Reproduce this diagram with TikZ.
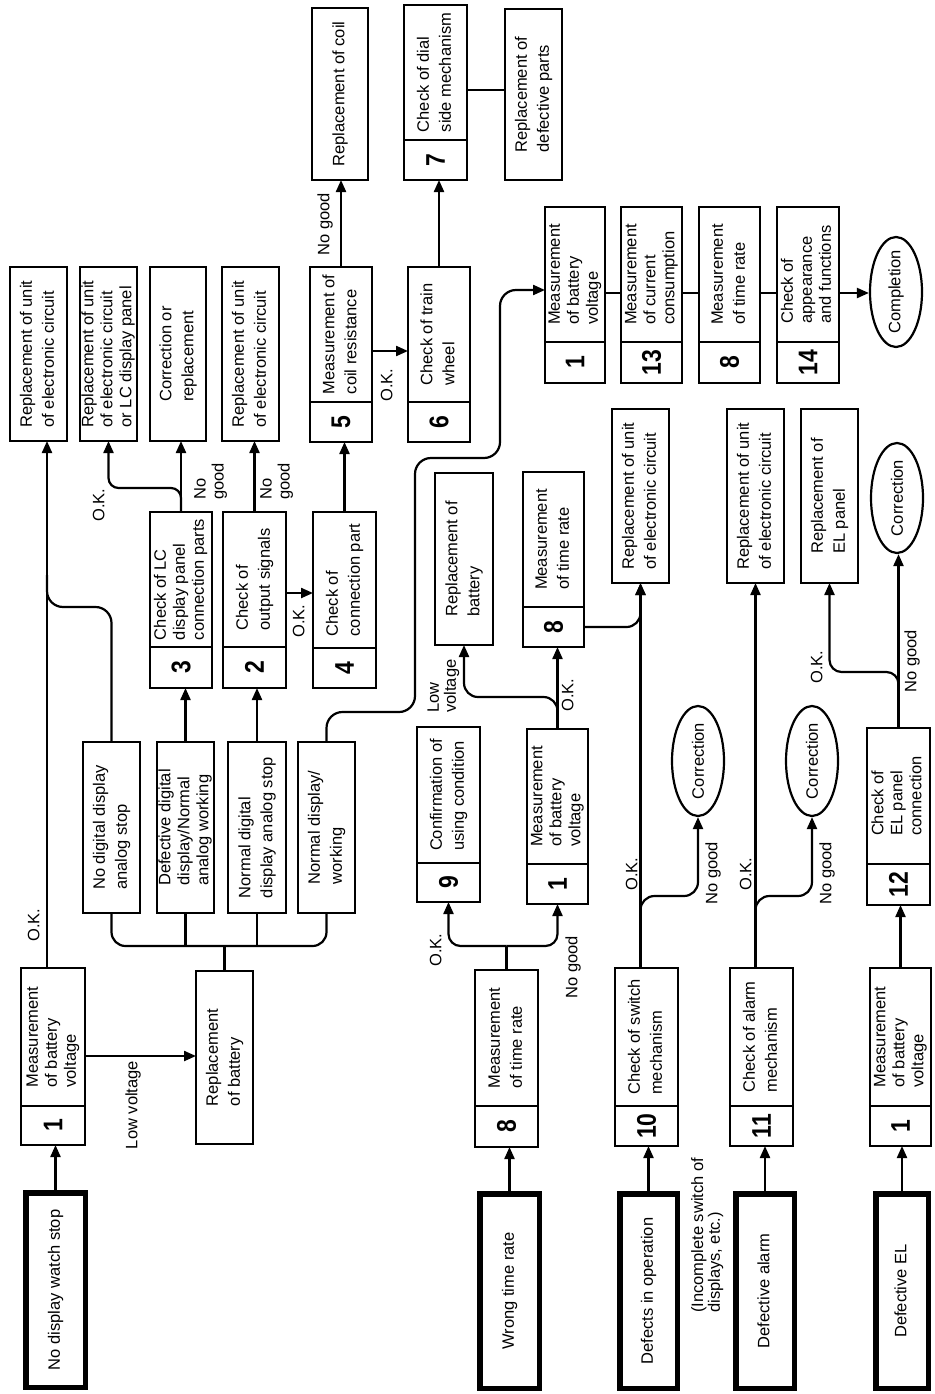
\documentclass[tikz,border=0pt]{standalone}
\usepackage{fontspec}
\setmainfont{Liberation Sans}
\newfontfamily\numf{Liberation Sans}[FakeStretch=0.85]
\usetikzlibrary{arrows.meta,shapes.geometric}
\newcommand\vt[2][22]{\rotatebox{90}{\fontsize{16.5}{#1}\selectfont\begin{tabular}{@{}l@{}}#2\end{tabular}}}
\newcommand\vn[1]{\rotatebox{90}{\numf\bfseries\fontsize{27}{27}\selectfont #1}}
\newcommand\vz[1]{\rotatebox{90}{\makebox[0pt]{\fontsize{16.5}{20}\selectfont #1}}}
\tikzset{
 bx/.style={draw, line width=2.2pt, inner sep=0pt, outer sep=0pt, anchor=north west},
 tb/.style={bx, line width=5.5pt},
 sz/.style 2 args={minimum width=#1pt, minimum height=#2pt},
 ln/.style={line width=2.2pt},
 arr/.style={ln, -{Triangle[length=12pt,width=10pt]}},
 ell/.style={draw, ellipse, line width=2.2pt, inner sep=0pt, minimum width=52pt, minimum height=110pt},
 lab/.style={inner sep=0pt},
}
\begin{document}
\begin{tikzpicture}[x=1pt,y=-1pt]
\fill[white] (0,0) rectangle (934,1394);
\useasboundingbox (0,0) rectangle (934,1394);
% top-left column
\node[bx,sz={57}{174}] (rA) at (10,267) {\vt{Replacement of unit\\of electronic circuit}};
\node[bx,sz={57}{174}] (rB) at (80,267) {\vt[19]{Replacement of unit\\of electronic circuit\\or LC display panel}};
\node[bx,sz={56}{174}] (rC) at (150,267) {\vt{Correction or\\replacement}};
\node[bx,sz={57}{174}] (rD) at (222,267) {\vt{Replacement of unit\\of electronic circuit}};
% 5,6,7
\node[bx,sz={62}{135}] (b5) at (310,267) {\vt{Measurement of\\coil resistance}};
\node[bx,sz={62}{40}] (b5n) at (310,402) {\vn{5}};
\node[bx,sz={62}{135}] (b6) at (408,267) {\vt{Check of train\\wheel}};
\node[bx,sz={62}{40}] (b6n) at (408,402) {\vn{6}};
\node[bx,sz={56}{172}] (rCoil) at (312,8) {\vt{Replacement of coil}};
\node[bx,sz={63}{135}] (b7) at (404,5) {\vt{Check of dial\\side mechanism}};
\node[bx,sz={63}{40}] (b7n) at (404,140) {\vn{7}};
\node[bx,sz={57}{171}] (rDef) at (505,9) {\vt{Replacement of\\defective parts}};
% final sequence
\node[bx,sz={60}{135}] (c1) at (545,207) {\vt[19]{Measurement\\of battery\\voltage}};
\node[bx,sz={60}{41}] (c1n) at (545,342) {\vn{1}};
\node[bx,sz={61}{135}] (c13) at (621,207) {\vt[19]{Measurement\\of current\\consumption}};
\node[bx,sz={61}{41}] (c13n) at (621,342) {\vn{13}};
\node[bx,sz={61}{135}] (c8) at (699,207) {\vt{Measurement\\of time rate}};
\node[bx,sz={61}{41}] (c8n) at (699,342) {\vn{8}};
\node[bx,sz={62}{135}] (c14) at (777,207) {\vt[19]{Check of\\appearance\\and functions}};
\node[bx,sz={62}{41}] (c14n) at (777,342) {\vn{14}};
\node[ell] (comp) at (896,292) {\vz{Completion}};
% 3,2,4
\node[bx,sz={62}{135}] (b3) at (150,512) {\vt[19]{Check of LC\\display panel\\connection parts}};
\node[bx,sz={62}{41}] (b3n) at (150,647) {\vn{3}};
\node[bx,sz={63}{135}] (b2) at (223,512) {\vt{Check of\\output signals}};
\node[bx,sz={63}{41}] (b2n) at (223,647) {\vn{2}};
\node[bx,sz={63}{136}] (b4) at (313,512) {\vt{Check of\\connection part}};
\node[bx,sz={63}{40}] (b4n) at (313,648) {\vn{4}};
% states
\node[bx,sz={57}{171}] (s1) at (83,742) {\vt{No digital display\\analog stop}};
\node[bx,sz={57}{171}] (s2) at (157,742) {\vt[19]{Defective digital\\display/Normal\\analog working}};
\node[bx,sz={58}{171}] (s3) at (228,742) {\vt{Normal digital\\display analog stop}};
\node[bx,sz={57}{171}] (s4) at (298,742) {\vt{Normal display/\\working}};
% group 1
\node[bx,sz={64}{138}] (t1a) at (21,968) {\vt[19]{Measurement\\of battery\\voltage}};
\node[bx,sz={64}{39}] (n1a) at (21,1106) {\vn{1}};
\node[bx,sz={57}{173}] (rBat1) at (196,971) {\vt{Replacement\\of battery}};
\node[tb,sz={59.5}{194.5}] (st1) at (25.75,1192.75) {\vt{No display watch stop}};
% middle
\node[bx,sz={58}{172}] (rBat2) at (435,473) {\vt{Replacement of\\battery}};
\node[bx,sz={61}{135}] (m8) at (523,472) {\vt{Measurement\\of time rate}};
\node[bx,sz={61}{40}] (m8n) at (523,607) {\vn{8}};
\node[bx,sz={63}{136}] (b9) at (417,727) {\vt{Confirmation of\\using condition}};
\node[bx,sz={63}{39}] (b9n) at (417,863) {\vn{9}};
\node[bx,sz={61}{135}] (b1b) at (527,729) {\vt[19]{Measurement\\of battery\\voltage}};
\node[bx,sz={61}{40}] (b1bn) at (527,864) {\vn{1}};
\node[bx,sz={63}{136}] (w8) at (475,970) {\vt{Measurement\\of time rate}};
\node[bx,sz={63}{41}] (w8n) at (475,1106) {\vn{8}};
\node[tb,sz={59.5}{194.5}] (st2) at (479.75,1193.75) {\vt{Wrong time rate}};
% right
\node[bx,sz={57}{174}] (rE1) at (612,409) {\vt{Replacement of unit\\of electronic circuit}};
\node[bx,sz={57}{174}] (rE2) at (727,409) {\vt{Replacement of unit\\of electronic circuit}};
\node[bx,sz={57}{174}] (rEL) at (801,409) {\vt{Replacement of\\EL panel}};
\node[ell] (cEL) at (897,498) {\vz{Correction}};
\node[ell] (cr1) at (698,761) {\vz{Correction}};
\node[ell] (cr2) at (812,761) {\vz{Correction}};
\node[bx,sz={63}{136}] (b12) at (867,728) {\vt[19]{Check of\\EL panel\\connection}};
\node[bx,sz={63}{41}] (b12n) at (867,864) {\vn{12}};
\node[bx,sz={63}{138}] (b10) at (615,968) {\vt{Check of switch\\mechanism}};
\node[bx,sz={63}{40}] (b10n) at (615,1106) {\vn{10}};
\node[bx,sz={63}{138}] (b11) at (730,968) {\vt{Check of alarm\\mechanism}};
\node[bx,sz={63}{40}] (b11n) at (730,1106) {\vn{11}};
\node[bx,sz={61}{138}] (b1c) at (870,968) {\vt[19]{Measurement\\of battery\\voltage}};
\node[bx,sz={61}{40}] (b1cn) at (870,1106) {\vn{1}};
\node[tb,sz={57.5}{194.5}] (st3) at (619.75,1193.75) {\vt{Defects in operation}};
\node[tb,sz={58.5}{194.5}] (st4) at (735.75,1193.75) {\vt{Defective alarm}};
\node[tb,sz={52.5}{194.5}] (st5) at (875.75,1193.75) {\vt{Defective EL}};
% labels
\node[lab] (lA) at (35,925) {\vt{O.K.}};
\node[lab] (lB) at (133,1105) {\vt{Low voltage}};
\node[lab] (lC) at (100,505) {\vt{O.K.}};
\node[lab,anchor=south] (lD) at (211,500) {\vt[18]{No\\good}};
\node[lab,anchor=south] (lE) at (277,500) {\vt[18]{No\\good}};
\node[lab] (lF) at (300,621) {\vt{O.K.}};
\node[lab] (lG) at (388,385) {\vt{O.K.}};
\node[lab] (lH) at (325,224) {\vt{No good}};
\node[lab] (lI) at (437,950) {\vt{O.K.}};
\node[lab] (lJ) at (573,967) {\vt{No good}};
\node[lab,anchor=south] (lK) at (444,713) {\vt[17]{Low\\voltage}};
\node[lab] (lL) at (569,695) {\vt{O.K.}};
\node[lab] (lM) at (633,874) {\vt{O.K.}};
\node[lab] (lN) at (713,873) {\vt{No good}};
\node[lab] (lO) at (747,874) {\vt{O.K.}};
\node[lab] (lP) at (827,873) {\vt{No good}};
\node[lab] (lQ) at (818,667) {\vt{O.K.}};
\node[lab] (lR) at (912,661) {\vt{No good}};
\node[lab,anchor=south] (lS) at (708,1313) {\vt[16]{(Incomplete switch of\\displays, etc.)}};
% connectors group 1
\draw[arr] (st1.north) -- (st1.north |- n1a.south);
\coordinate (okA) at (47,968);
\draw[arr] (okA) -- (okA |- rA.south);
\coordinate (lvA) at (85,1056);
\draw[arr] (lvA) -- (lvA -| rBat1.west);
\coordinate (busA) at (0,946);
\draw[ln, rounded corners=14pt] (s1.south) -- (s1.south |- busA) -- (s4.south |- busA) -- (s4.south);
\draw[ln] (s2.south) -- (s2.south |- busA);
\draw[ln] (s3.south) -- (s3.south |- busA);
\draw[ln] (rBat1.north) -- (rBat1.north |- busA);
\coordinate (sc) at (47,607);
\coordinate (sc2) at (47,575);
\draw[ln, rounded corners=16pt] (s1.north) -- (s1.north |- sc) -- (sc) -- (sc2);
\draw[arr] (s2.north) -- (s2.north |- b3n.south);
\draw[arr] (s3.north) -- (s3.north |- b2n.south);
\coordinate (p1) at (327,712);
\coordinate (p2) at (415,712);
\coordinate (p3) at (415,458);
\coordinate (p4) at (500,458);
\coordinate (p5) at (500,290);
\draw[arr, rounded corners=16pt] (s4.north) -- (s4.north |- p1) -- (p2) -- (p3) -- (p4) -- (p5) -- (p5 -| c1.west);
\draw[arr] (b3.north) -- (b3.north |- rC.south);
\coordinate (q1) at (0,488);
\draw[arr, rounded corners=10pt] (b3.north) -- (b3.north |- q1) -- (rB.south |- q1) -- (rB.south);
\draw[arr] (b2.north) -- (b2.north |- rD.south);
\coordinate (q2) at (286,593);
\draw[arr] (q2) -- (q2 -| b4.west);
\draw[arr] (b4.north) -- (b4.north |- b5n.south);
\coordinate (q3) at (372,351);
\draw[arr] (q3) -- (q3 -| b6.west);
\draw[arr] (b5.north) -- (b5.north |- rCoil.south);
\draw[arr] (b6.north) -- (b6.north |- b7n.south);
\coordinate (q4) at (467,90);
\draw[ln] (q4) -- (q4 -| rDef.west);
\coordinate (q5) at (605,293);
\draw[ln] (q5) -- (q5 -| c13.west);
\coordinate (q6) at (682,293);
\draw[ln] (q6) -- (q6 -| c8.west);
\coordinate (q7) at (760,293);
\draw[ln] (q7) -- (q7 -| c14.west);
\coordinate (q8) at (839,293);
\draw[arr] (q8) -- (q8 -| comp.west);
% middle
\draw[arr] (st2.north) -- (st2.north |- w8n.south);
\coordinate (f1) at (506.5,946);
\draw[ln] (w8.north) -- (f1);
\draw[arr, rounded corners=12pt] (f1) -- (b9n.south |- f1) -- (b9n.south);
\draw[arr, rounded corners=12pt] (f1) -- (b1bn.south |- f1) -- (b1bn.south);
\draw[arr] (b1b.north) -- (b1b.north |- m8n.south);
\coordinate (f2) at (0,697);
\draw[arr, rounded corners=14pt] (b1b.north) -- (b1b.north |- f2) -- (rBat2.south |- f2) -- (rBat2.south);
\coordinate (f3) at (584,627);
\draw[arr, rounded corners=14pt] (f3) -- (rE1.south |- f3) -- (rE1.south);
% right
\coordinate (g1) at (640.5,968);
\draw[arr] (g1) -- (rE1.south);
\coordinate (g2) at (640.5,925);
\coordinate (g3) at (0,896);
\draw[arr, rounded corners=14pt] (g2) -- (g2 |- g3) -- (cr1.south |- g3) -- (cr1.south);
\coordinate (h1) at (755.5,968);
\draw[arr] (h1) -- (rE2.south);
\coordinate (h2) at (755.5,925);
\draw[arr, rounded corners=14pt] (h2) -- (h2 |- g3) -- (cr2.south |- g3) -- (cr2.south);
\draw[arr] (st3.north) -- (st3.north |- b10n.south);
\draw[arr] (st4.north) -- (st4.north |- b11n.south);
\draw[arr] (st5.north) -- (st5.north |- b1cn.south);
\draw[arr] (b1c.north) -- (b1c.north |- b12n.south);
\draw[arr] (b12.north) -- (b12.north |- cEL.south);
\coordinate (k0) at (898.5,700);
\coordinate (k1) at (0,672);
\draw[arr, rounded corners=12pt] (k0) -- (k0 |- k1) -- (rEL.south |- k1) -- (rEL.south);
\end{tikzpicture}
\end{document}
